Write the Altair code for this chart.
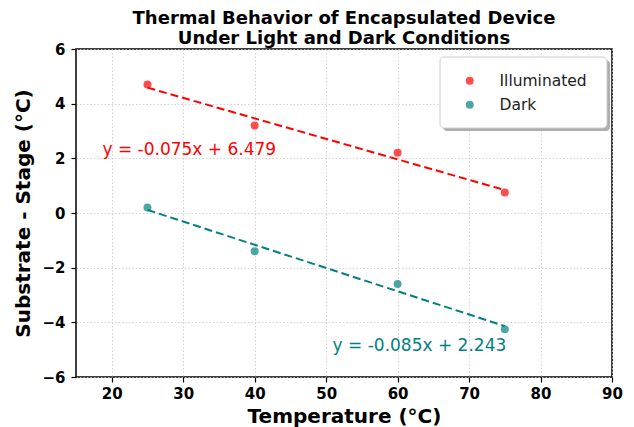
import altair as alt
import pandas as pd

# ---- data ----
temps = [25, 40, 60, 75]
illuminated = [4.7, 3.2, 2.2, 0.75]
dark = [0.2, -1.4, -2.6, -4.25]
series_names = ["Illuminated", "Dark"]
series_colors = ["red", "teal"]
eq_labels = ["y = -0.075x + 6.479", "y = -0.085x + 2.243"]
eq_x = [18.7, 50.9]
eq_y = [2.3, -4.88]
x_ticks = [20, 30, 40, 50, 60, 70, 80, 90]
y_ticks = [-6, -4, -2, 0, 2, 4, 6]

rows = []
for name, vals in zip(series_names, [illuminated, dark]):
    for t, v in zip(temps, vals):
        rows.append({"Temperature": t, "Delta": v, "Series": name})
df = pd.DataFrame(rows)
eq_df = pd.DataFrame({"x": eq_x, "y": eq_y, "label": eq_labels, "Series": series_names})

xscale = alt.Scale(domain=[15, 90], nice=False, zero=False)
yscale = alt.Scale(domain=[-6, 6], nice=False, zero=False)
xaxis = alt.Axis(values=x_ticks, title="Temperature (°C)", format="d")
yaxis = alt.Axis(values=y_ticks, title="Substrate - Stage (°C)", format="d")

base = alt.Chart(df)

# legend box with shadow (decoration, pixel placement)
box_df = pd.DataFrame({"k": [0]})
shadow = alt.Chart(box_df).mark_rect(color="#9a9a9a", cornerRadius=4, opacity=0.8).encode(
    x=alt.value(367), x2=alt.value(534), y=alt.value(11), y2=alt.value(82)
)
box = alt.Chart(box_df).mark_rect(fill="white", stroke="#cccccc", strokeWidth=1, cornerRadius=4).encode(
    x=alt.value(364), x2=alt.value(531), y=alt.value(8), y2=alt.value(79)
)

points = base.mark_circle(size=64, opacity=0.7).encode(
    x=alt.X("Temperature:Q", scale=xscale, axis=xaxis),
    y=alt.Y("Delta:Q", scale=yscale, axis=yaxis),
    color=alt.Color(
        "Series:N",
        scale=alt.Scale(domain=series_names, range=series_colors),
        legend=alt.Legend(
            title=None,
            orient="none",
            legendX=386,
            legendY=24,
            symbolType="circle",
            symbolSize=64,
            symbolOpacity=0.7,
            labelFontSize=15.5,
            labelFont="DejaVu Sans",
            labelColor="#222222",
            labelOffset=22,
            rowPadding=7,
            padding=0,
        ),
    ),
)

layers = [shadow, box]
for name, col in zip(series_names, series_colors):
    line = (
        base.transform_filter(alt.datum.Series == name)
        .transform_regression("Temperature", "Delta", method="linear")
        .mark_line(color=col, strokeDash=[8, 4], strokeWidth=2)
        .encode(
            x=alt.X("Temperature:Q", scale=xscale, axis=xaxis),
            y=alt.Y("Delta:Q", scale=yscale, axis=yaxis),
        )
    )
    layers.append(line)

texts = []
for name, col in zip(series_names, series_colors):
    t = (
        alt.Chart(eq_df)
        .transform_filter(alt.datum.Series == name)
        .mark_text(align="left", baseline="middle", fontSize=17, font="DejaVu Sans", color=col)
        .encode(
            x=alt.X("x:Q", scale=xscale),
            y=alt.Y("y:Q", scale=yscale),
            text="label:N",
        )
    )
    texts.append(t)

chart = (
    alt.layer(*layers, points, *texts)
    .properties(
        width=536,
        height=328,
        autosize=alt.AutoSizeParams(type="none"),
        padding={"left": 68, "top": 41, "right": 14, "bottom": 50},
        title=alt.TitleParams(
            text=["Thermal Behavior of Encapsulated Device", "Under Light and Dark Conditions"],
            fontSize=18,
            font="DejaVu Sans",
            fontWeight="bold",
            color="black",
            anchor="middle",
            frame="group",
            offset=-6,
            lineHeight=20,
        ),
    )
    .configure_view(stroke="black", strokeWidth=1.5)
    .configure_axis(
        domain=False,
        grid=True,
        gridColor="#c8c8c8",
        gridDash=[1.5, 2],
        gridWidth=0.8,
        tickColor="black",
        tickSize=5,
        tickWidth=1.2,
        labelFlush=False,
        labelFont="DejaVu Sans",
        labelFontSize=15,
        labelFontWeight="bold",
        labelColor="black",
        titleFont="DejaVu Sans",
        titleFontSize=20,
        titleFontWeight="bold",
        titleColor="black",
    )
    .configure_axisX(labelPadding=4, titlePadding=5)
    .configure_axisY(labelPadding=6, titlePadding=8)
)

chart.save("out.html", embed_options={"renderer": "svg", "actions": False})
